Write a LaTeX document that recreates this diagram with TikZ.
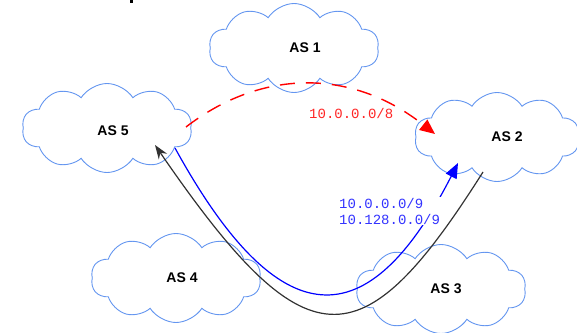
\documentclass[tikz,border=0pt]{standalone}
\usepackage{fontspec}
\setmainfont{Liberation Sans}
\setmonofont{Liberation Mono}
\definecolor{cloudblue}{RGB}{100, 150, 240}
\definecolor{routered}{RGB}{255, 0, 0}
\definecolor{routeblue}{RGB}{0, 0, 255}
\definecolor{routegray}{RGB}{50, 50, 50}
\usetikzlibrary{shapes.symbols, arrows.meta, positioning}
\tikzset{
  asCloud/.style={cloud, cloud puffs=10, cloud puff arc=115, cloud ignores aspect,
    draw=cloudblue, fill=white, line width=0.9pt, minimum width=170pt, minimum height=89pt, inner sep=0pt},
  asLabel/.style={font=\bfseries\fontsize{14}{16}\selectfont},
  prefixLabel/.style={font=\ttfamily\fontsize{14}{16}\selectfont, fill=white, inner sep=1pt, align=left, anchor=west}
}

\begin{document}
\begin{tikzpicture}[x=1pt, y=-1pt]
  \useasboundingbox (0,0) rectangle (577,332);
  \fill[black] (130,0) rectangle (133,3);
  % the autonomous systems
  \node[asCloud] (as1) at (294,48) {};
  \node[asCloud] (as5) at (107,128) {};
  \node[asCloud, minimum width=165pt] (as2) at (497,137) {};
  \node[asCloud] (as4) at (176,278) {};
  \node[asCloud] (as3) at (441,289) {};
  \node[asLabel] at ([xshift=11pt]as1.center) {AS 1};
  \node[asLabel] at ([xshift=6pt, yshift=-3pt]as5.center) {AS 5};
  \node[asLabel] at ([xshift=10pt]as2.center) {AS 2};
  \node[asLabel] at ([xshift=6pt]as4.center) {AS 4};
  \node[asLabel] at ([xshift=5pt]as3.center) {AS 3};
  % announcements
  \draw[routered, line width=1.4pt, dash pattern=on 15pt off 11pt, -{Triangle[length=15pt, width=13pt]}]
    ([shift={(79,-1)}]as5.center) .. controls (260,70) and (350,67) .. ([shift={(-62,-3)}]as2.center);
  \draw[routeblue, line width=1.2pt, -{Triangle[length=15pt, width=12pt]}]
    ([shift={(68,20)}]as5.center) .. controls (280,339) and (368,339) .. ([shift={(-39,26)}]as2.center);
  \draw[routegray, line width=1.2pt, -{Stealth[length=14pt, width=10pt]}]
    ([shift={(-14,35)}]as2.center) .. controls (361,365) and (306,365) .. ([shift={(48,17)}]as5.center);
  \node[prefixLabel, text=routered!85] (agg) at (308,113) {10.0.0.0/8};
  \node[prefixLabel, text=routeblue!80] (split) at (338,211) {10.0.0.0/9\\10.128.0.0/9};
\end{tikzpicture}
\end{document}
